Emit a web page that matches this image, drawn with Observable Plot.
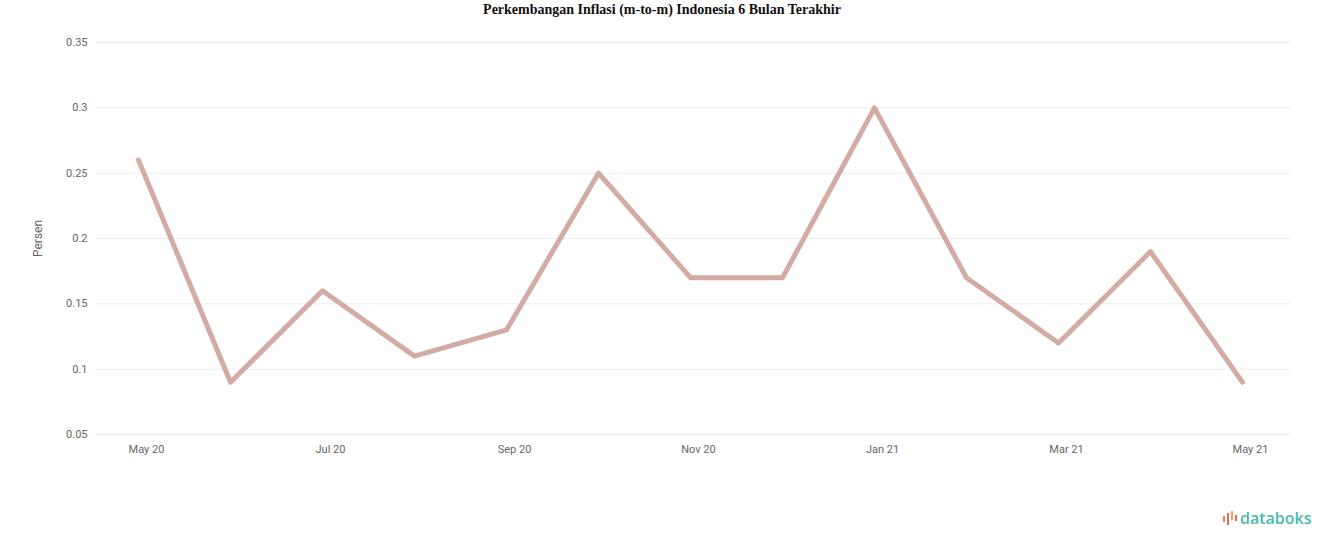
<!DOCTYPE html>
<html>
<head>
<meta charset="utf-8">
<script src="https://cdn.jsdelivr.net/npm/d3@7"></script>
<script src="https://cdn.jsdelivr.net/npm/@observablehq/plot@0.6"></script>
<style>
  html, body { margin: 0; padding: 0; background: #fff; }
  #wrap { position: relative; width: 1324px; height: 547px; overflow: hidden; }
  #title { height: 20px; line-height: 20px; text-align: center; font-family: "Liberation Serif", serif; font-weight: bold; font-size: 14px; color: #111; }
  #logo { position: absolute; left: 1222px; top: 507px; display: flex; align-items: center; font-family: "Open Sans", sans-serif; font-weight: 600; font-size: 16px; color: #4cb9b0; }
  #logo svg { margin-right: 2px; }
</style>
</head>
<body>
<div id="wrap">
  <div id="title">Perkembangan Inflasi (m-to-m) Indonesia 6 Bulan Terakhir</div>
  <div id="chart"></div>
  <div id="logo"><svg width="16" height="16" viewBox="0 0 16 16"><rect x="1" y="6" width="2" height="6" fill="#f07b54"/><rect x="5" y="3" width="2" height="12" fill="#ef6a4f"/><rect x="9" y="1" width="2" height="9" fill="#f4a261"/><rect x="13" y="5" width="2" height="6" fill="#ef6a4f"/></svg>databoks</div>
</div>
<script>
const months = ["May 20","Jun 20","Jul 20","Aug 20","Sep 20","Oct 20","Nov 20","Dec 20","Jan 21","Feb 21","Mar 21","Apr 21","May 21"];
const values = [0.26, 0.09, 0.16, 0.11, 0.13, 0.25, 0.17, 0.17, 0.30, 0.17, 0.12, 0.19, 0.09];
const xTicks = ["May 20","Jul 20","Sep 20","Nov 20","Jan 21","Mar 21","May 21"];
const yTicks = [0.05, 0.1, 0.15, 0.2, 0.25, 0.3, 0.35];
const yLabel = "Persen";

const data = months.map((m, i) => ({month: m, value: values[i]}));

const chart = Plot.plot({
  width: 1324,
  height: 480,
  marginLeft: 95,
  marginRight: 34,
  marginTop: 22,
  marginBottom: 66,
  style: {fontFamily: "Roboto, sans-serif", fontSize: "11px", color: "#666", background: "#fff"},
  x: {type: "point", domain: months, padding: 0, insetLeft: 42, insetRight: 47, label: null},
  y: {domain: [0.05, 0.35], label: null},
  marks: [
    Plot.ruleY(yTicks, {stroke: "#ececec", strokeWidth: 1}),
    Plot.axisY({ticks: yTicks, tickSize: 0, tickPadding: 8, tickFormat: d => String(d), label: null, fill: "#666"}),
    Plot.text([yLabel], {frameAnchor: "left", textAnchor: "middle", rotate: -90, dx: -57, fill: "#666", fontSize: 12}),
    Plot.axisX({ticks: xTicks, tickSize: 0, tickPadding: 11, dx: 8, label: null, fill: "#666"}),
    Plot.line(data, {x: "month", y: "value", stroke: "#d2aca3", strokeWidth: 5, strokeLinejoin: "round", strokeLinecap: "round"})
  ]
});
document.getElementById("chart").appendChild(chart);
</script>
</body>
</html>
